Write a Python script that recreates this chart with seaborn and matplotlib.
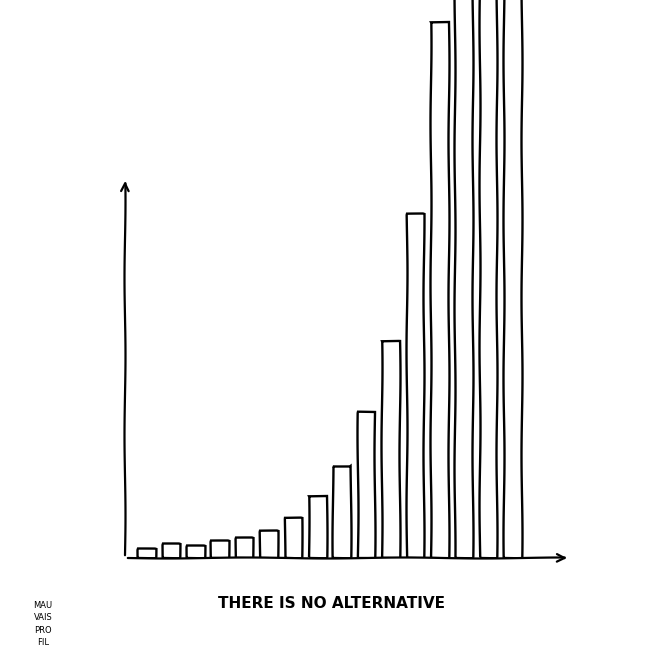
import matplotlib
matplotlib.use("Agg")
import matplotlib.pyplot as plt
import seaborn as sns
import pandas as pd

# bar heights (pixels above the baseline), last ones run off the page
periods = [str(i) for i in range(1, 17)]
heights = [9, 14, 12, 17, 20, 27, 40, 62, 92, 146, 217, 344, 536, 840, 1300, 2000]
caption = "THERE IS NO ALTERNATIVE"
signature = "MAU\nVAIS\nPRO\nFIL"

df = pd.DataFrame({"period": periods, "height": heights})

sns.set_style("white")
plt.rcParams["font.family"] = ["DejaVu Sans"]
plt.rcParams["path.sketch"] = (0.5, 160, 1.2)

fig = plt.figure(figsize=(6.61, 6.61), dpi=100)
ax = fig.add_axes([125 / 661, 103 / 661, 445 / 661, 558 / 661])

sns.barplot(data=df, x="period", y="height", color="white", edgecolor="black",
            linewidth=1.7, width=0.72, saturation=1, ax=ax)

ax.set_xlim(-0.9, 17.34)
ax.set_ylim(0, 558)
for s in ax.spines.values():
    s.set_visible(False)
ax.set_xticks([])
ax.set_yticks([])
ax.set_xlabel("")
ax.set_ylabel("")

# hand drawn axes with open arrow heads
arrow = dict(arrowstyle="->", lw=1.6, color="black", mutation_scale=14)
ax.annotate("", xy=(0, 380 / 558), xytext=(0, 0), xycoords="axes fraction",
            arrowprops=arrow, annotation_clip=False)
ax.annotate("", xy=(1, 0), xytext=(0, 0), xycoords="axes fraction",
            arrowprops=arrow, annotation_clip=False)

fig.text(331 / 661, 1 - 604 / 661, caption, ha="center", va="center",
         fontsize=11, fontweight="bold", color="black")
fig.text(43 / 661, 1 - 624 / 661, signature, ha="center", va="center",
         fontsize=6, linespacing=1.45, color="black")

fig.savefig("out.png", dpi=100, facecolor="white")
